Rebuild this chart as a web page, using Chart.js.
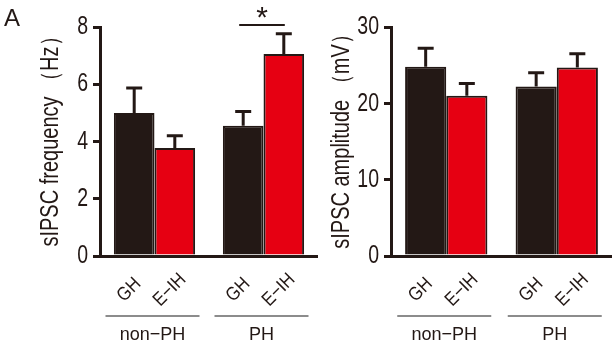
<!DOCTYPE html>
<html>
<head>
    <meta charset='utf-8'>
    <title>sIPSC</title>
    <style>
        body { margin: 0; background: #fff; }
        #wrap { position: relative; width: 612px; height: 347px; }
        canvas { position: absolute; top: 0; }
        #panel { position: absolute; left: 4px; top: 4px; font: 24px "Liberation Sans", Arial, sans-serif; color: #231815; }
    </style>
</head>
<body>
    <div id="wrap">
        <canvas id="chart-freq" width="318" height="347" style="left:0"></canvas>
        <canvas id="chart-amp" width="294" height="347" style="left:318px"></canvas>
        <div id="panel">A</div>
    </div>

    <script src="https://cdn.jsdelivr.net/npm/chart.js"></script>
    <script>
const groups = ['non−PH', 'PH'];
const conditions = ['GH', 'E−IH'];

// frequency (Hz)
const freqGH = [5.0, 4.55];
const freqGHErr = [0.87, 0.5];
const freqEIH = [3.77, 7.06];
const freqEIHErr = [0.43, 0.7];

// amplitude (mV)
const ampGH = [24.8, 22.2];
const ampGHErr = [2.4, 1.8];
const ampEIH = [21.0, 24.7];
const ampEIHErr = [1.6, 1.8];

const ink = '#231815';
const red = '#e60012';
const fontFam = '"Liberation Sans", Arial, sans-serif';

// narrow text: the figure uses a condensed face, so squeeze along the text
function narrowText(ctx, text, x, y, size, rot, sx, align, base) {
    ctx.save();
    ctx.translate(x, y);
    ctx.rotate(rot);
    ctx.scale(sx, 1);
    ctx.font = size + 'px ' + fontFam;
    ctx.textAlign = align;
    ctx.textBaseline = base;
    ctx.fillText(text, 0, 0);
    ctx.restore();
}

const extras = {
    id: 'extras',
    afterDatasetsDraw(chart, args, opts) {
        const ctx = chart.ctx;
        const y = chart.scales.y;
        const area = chart.chartArea;
        const bottom = area.bottom;
        ctx.save();
        ctx.strokeStyle = ink;
        ctx.fillStyle = ink;
        // y tick labels and title
        y.ticks.forEach(t => {
            narrowText(ctx, t.label, area.left - 12, y.getPixelForValue(t.value), 26, 0, 0.75, 'right', 'middle');
        });
        narrowText(ctx, opts.title, area.left - 42, (area.top + area.bottom) / 2 - 5, 25, -Math.PI / 2, 0.8, 'center', 'alphabetic');
        // error bars (upward only)
        chart.data.datasets.forEach((ds, di) => {
            const meta = chart.getDatasetMeta(di);
            meta.data.forEach((bar, i) => {
                const top = y.getPixelForValue(ds.data[i] + opts.err[di][i]);
                ctx.lineWidth = 3;
                ctx.beginPath();
                ctx.moveTo(bar.x, bar.y);
                ctx.lineTo(bar.x, top);
                ctx.moveTo(bar.x - 8, top);
                ctx.lineTo(bar.x + 8, top);
                ctx.stroke();
                narrowText(ctx, conditions[di], bar.x - 5, bottom + 34, 19, -Math.PI / 4, 0.88, 'center', 'middle');
            });
        });
        // group lines and names
        const m0 = chart.getDatasetMeta(0).data;
        const m1 = chart.getDatasetMeta(1).data;
        groups.forEach((g, i) => {
            const cx = (m0[i].x + m1[i].x) / 2;
            ctx.strokeStyle = '#666';
            ctx.lineWidth = 1.5;
            ctx.beginPath();
            ctx.moveTo(cx - 49, bottom + 60);
            ctx.lineTo(cx + 45, bottom + 60);
            ctx.stroke();
            narrowText(ctx, g, cx - 2, bottom + 79, 19, 0, 0.95, 'center', 'middle');
        });
        // significance mark
        if (opts.star) {
            const x0 = m0[1].x - 4, x1 = m1[1].x + 1;
            const ly = y.getPixelForValue(8) - 2;
            ctx.strokeStyle = ink;
            ctx.lineWidth = 2;
            ctx.beginPath();
            ctx.moveTo(x0, ly);
            ctx.lineTo(x1, ly);
            ctx.stroke();
            ctx.font = '30px ' + fontFam;
            ctx.textAlign = 'center';
            ctx.textBaseline = 'middle';
            ctx.fillText('*', (x0 + x1) / 2, ly - 6);
        }
        ctx.restore();
    }
};

function makeChart(id, gh, eih, errs, max, step, title, padLeft, axisW, star) {
    return new Chart(document.getElementById(id), {
        type: 'bar',
        data: {
            labels: groups,
            datasets: [
                { label: conditions[0], data: gh, backgroundColor: ink, borderColor: ink, borderWidth: 2 },
                { label: conditions[1], data: eih, backgroundColor: red, borderColor: ink, borderWidth: 2 }
            ]
        },
        options: {
            responsive: false,
            animation: false,
            categoryPercentage: 0.745,
            barPercentage: 1,
            layout: { padding: { left: padLeft, top: 27, right: 0, bottom: 91 } },
            plugins: {
                legend: { display: false },
                tooltip: { enabled: false },
                extras: { err: errs, star: star, title: title }
            },
            scales: {
                x: {
                    ticks: { display: false },
                    grid: { display: false },
                    border: { display: true, color: ink, width: 3 },
                    afterFit(s) { s.height = 0; s.paddingLeft = 0; s.paddingRight = 0; }
                },
                y: {
                    min: 0,
                    max: max,
                    ticks: { stepSize: step, color: 'rgba(0,0,0,0)', padding: 2, font: { size: 20, family: fontFam } },
                    grid: { drawOnChartArea: false, color: ink, lineWidth: 3, tickLength: 7 },
                    border: { color: ink, width: 3 },
                    afterFit(s) { s.width = axisW; s.paddingTop = 0; s.paddingBottom = 0; }
                }
            }
        },
        plugins: [extras]
    });
}

makeChart('chart-freq', freqGH, freqEIH, [freqGHErr, freqEIHErr], 8, 2, 'sIPSC frequency （Hz）', 33, 67, true);
makeChart('chart-amp', ampGH, ampEIH, [ampGHErr, ampEIHErr], 30, 10, 'sIPSC amplitude （mV）', 7, 66, false);
    </script>
</body>
</html>
